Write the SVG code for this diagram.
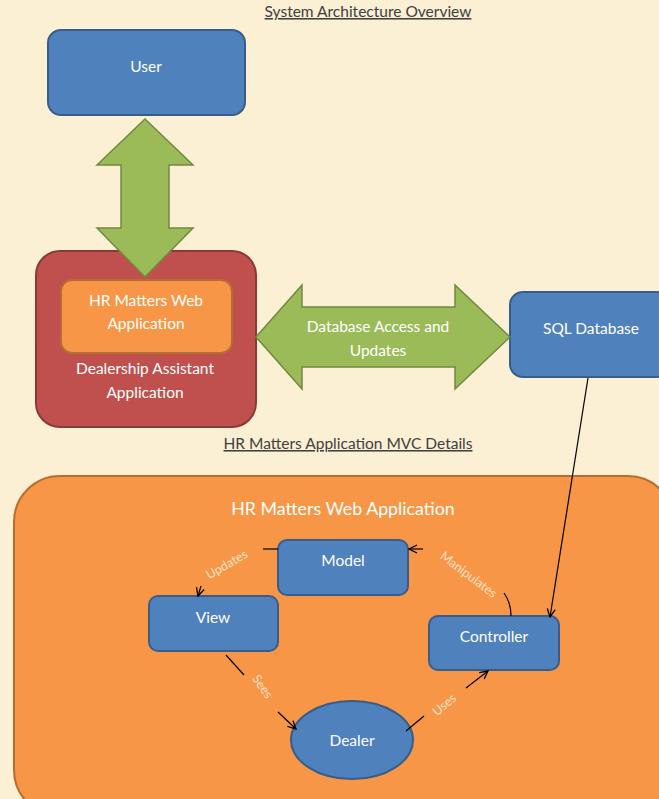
<svg xmlns="http://www.w3.org/2000/svg" width="659" height="799" viewBox="0 0 659 799">
<defs>
<marker id="arr" viewBox="0 0 10 10" refX="9" refY="5" markerWidth="10" markerHeight="10" markerUnits="userSpaceOnUse" orient="auto">
<path d="M1,1 L9,5 L1,9" fill="none" stroke="#000" stroke-width="1.3"/>
</marker>
<style>
text{font-family:Lato,"Open Sans","Liberation Sans",sans-serif}
.blue{fill:#4F81BD;stroke:#385D8A;stroke-width:2}
.org{fill:#F79646;stroke:#B66D31;stroke-width:2}
.red{fill:#C0504D;stroke:#8C3836;stroke-width:2}
.grn{fill:#9BBB59;stroke:#71893F;stroke-width:1.5}
.wt{fill:#fff;font-size:15.5px;text-anchor:middle}
.hd{fill:#404040;font-size:15.5px;text-anchor:middle;text-decoration:underline}
.lbl{fill:#FDE3CC;font-size:12.5px;text-anchor:middle}
.con{fill:none;stroke:#000;stroke-width:1.2}
</style>
</defs>
<rect x="0" y="0" width="659" height="799" fill="#FBEFD4"/>

<text class="hd" x="368" y="17">System Architecture Overview</text>
<text class="hd" x="348" y="449">HR Matters Application MVC Details</text>

<g id="user">
<rect class="blue" x="48" y="30" width="197" height="85" rx="13"/>
<text class="wt" x="146" y="72">User</text>
</g>

<g id="dealership-app">
<rect class="red" x="36" y="251" width="220" height="176" rx="24"/>
<text class="wt" x="145" y="374">Dealership Assistant</text>
<text class="wt" x="145" y="398">Application</text>
</g>

<g id="hr-web-app">
<rect class="org" x="61" y="280" width="171" height="73" rx="11"/>
<text class="wt" x="146" y="306">HR Matters Web</text>
<text class="wt" x="146" y="329">Application</text>
</g>

<g id="sql-db">
<rect class="blue" x="510" y="292" width="160" height="85" rx="13"/>
<text class="wt" x="591" y="334">SQL Database</text>
</g>

<g id="mvc-container">
<rect class="org" x="14" y="476" width="660" height="340" rx="46"/>
<text class="wt" x="343" y="515" style="font-size:17.8px">HR Matters Web Application</text>
</g>

<g id="model">
<rect class="blue" x="278" y="540" width="130" height="55" rx="9"/>
<text class="wt" x="343" y="566">Model</text>
</g>
<g id="view">
<rect class="blue" x="149" y="596" width="129" height="55" rx="9"/>
<text class="wt" x="213" y="623">View</text>
</g>
<g id="controller">
<rect class="blue" x="429" y="616" width="130" height="54" rx="9"/>
<text class="wt" x="494" y="642">Controller</text>
</g>
<g id="dealer">
<ellipse class="blue" cx="352" cy="740" rx="61" ry="39"/>
<text class="wt" x="352" y="746">Dealer</text>
</g>

<g id="connectors">
<path class="grn" d="M145,119 L193,165 L169,165 L169,228 L193,228 L145,277 L97,228 L121,228 L121,165 L97,165 Z"/>
<path class="grn" d="M256,337 L302,285 L302,307 L455,307 L455,285 L510,337 L455,389 L455,367 L302,367 L302,389 Z"/>
<text class="wt" x="378" y="332">Database Access and</text>
<text class="wt" x="378" y="356">Updates</text>

<line class="con" x1="588" y1="378" x2="550" y2="617" marker-end="url(#arr)"/>

<path class="con" d="M278,549 L263,549"/>
<path class="con" d="M201,586 L198,596" marker-end="url(#arr)"/>
<text class="lbl" transform="translate(229,568) rotate(-30)">Updates</text>

<path class="con" d="M511,616 C511,607 509,600 504,593"/>
<path class="con" d="M423,549 L409,549" marker-end="url(#arr)"/>
<text class="lbl" transform="translate(466,578) rotate(37)">Manipulates</text>

<line class="con" x1="226" y1="655" x2="244" y2="675"/>
<line class="con" x1="278" y1="712" x2="296" y2="729" marker-end="url(#arr)"/>
<text class="lbl" transform="translate(259,689) rotate(55)">Sees</text>

<line class="con" x1="406" y1="731" x2="424" y2="716"/>
<line class="con" x1="466" y1="688" x2="488" y2="671" marker-end="url(#arr)"/>
<text class="lbl" transform="translate(447,708) rotate(-40)">Uses</text>
</g>
</svg>
